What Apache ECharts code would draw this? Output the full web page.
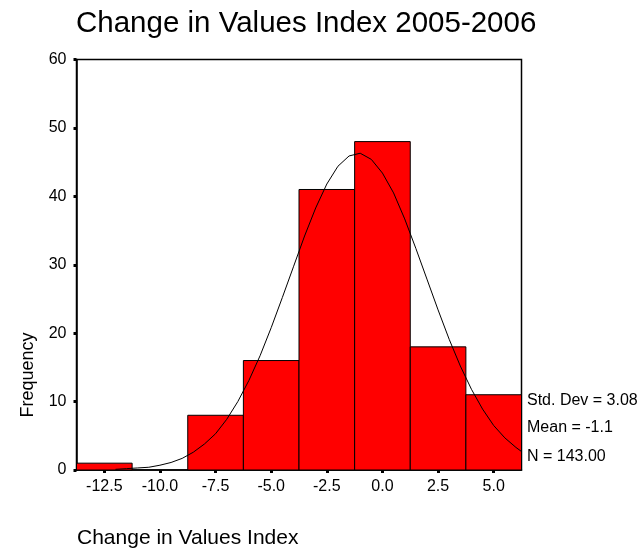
<!DOCTYPE html>
<html>
<head>
<meta charset="utf-8">
<script src="https://cdn.jsdelivr.net/npm/echarts@6/dist/echarts.min.js"></script>
<style>
html,body{margin:0;padding:0;background:#fff;}
#chart{width:642px;height:550px;}
</style>
</head>
<body>
<div id="chart"></div>
<script>
// Histogram data
const binCenters = [-12.5, -10.0, -7.5, -5.0, -2.5, 0.0, 2.5, 5.0];
const frequencies = [1, 0, 8, 16, 41, 48, 18, 11];
const binWidth = 2.5;
const xTicks = [-12.5, -10.0, -7.5, -5.0, -2.5, 0.0, 2.5, 5.0];
// Normal curve
const curveX = [-12, -11.5, -11, -10.5, -10, -9.5, -9, -8.5, -8, -7.5, -7, -6.5, -6, -5.5, -5, -4.5, -4, -3.5, -3, -2.5, -2, -1.5, -1, -0.5, 0, 0.5, 1, 1.5, 2, 2.5, 3, 3.5, 4, 4.5, 5, 5.5, 6, 6.25];
const curveY = [0.1, 0.2, 0.3, 0.4, 0.7, 1.1, 1.7, 2.6, 3.8, 5.3, 7.4, 10.0, 13.1, 16.7, 20.8, 25.2, 29.7, 34.2, 38.3, 41.8, 44.4, 45.9, 46.3, 45.4, 43.4, 40.5, 36.7, 32.4, 27.9, 23.4, 19.1, 15.2, 11.8, 8.9, 6.5, 4.7, 3.3, 2.7];
const statLines = ['Std. Dev = 3.08', 'Mean = -1.1', 'N = 143.00'];
const titleText = 'Change in Values Index 2005-2006';
const xName = 'Change in Values Index';
const yName = 'Frequency';

const FONT = '"Liberation Sans", Arial, sans-serif';
const chart = echarts.init(document.getElementById('chart'));

const barData = binCenters.map((c, i) => [c, frequencies[i]]);
const lineData = curveX.map((x, i) => [x, curveY[i]]);

const option = {
  backgroundColor: '#fff',
  animation: false,
  title: {
    text: titleText,
    left: 76,
    top: 9,
    padding: 0,
    textStyle: { fontFamily: FONT, fontSize: 29.5, fontWeight: 'normal', color: '#000' }
  },
  grid: {
    left: 76.5, right: 120.5, top: 59.5, bottom: 80,
    show: true, borderColor: '#000', borderWidth: 1.5, backgroundColor: 'transparent',
    containLabel: false
  },
  xAxis: {
    type: 'value',
    min: binCenters[0] - binWidth / 2,
    max: binCenters[binCenters.length - 1] + binWidth / 2,
    axisLine: { show: true, onZero: false, lineStyle: { color: '#000', width: 1.5 } },
    axisTick: { show: true, customValues: xTicks, length: 3, lineStyle: { color: '#000', width: 3 } },
    axisLabel: {
      customValues: xTicks,
      formatter: v => v.toFixed(1),
      fontFamily: FONT, fontSize: 16, color: '#000', margin: 9
    },
    splitLine: { show: false }
  },
  yAxis: {
    type: 'value',
    min: 0, max: 60, interval: 10,
    axisLine: { show: true, onZero: false, lineStyle: { color: '#000', width: 1.5 } },
    axisTick: { show: true, length: 3, lineStyle: { color: '#000', width: 3 } },
    axisLabel: { fontFamily: FONT, fontSize: 16, color: '#000', margin: 10 },
    splitLine: { show: false }
  },
  series: [
    {
      type: 'custom',
      data: barData,
      z: 2,
      renderItem: function (params, api) {
        const c = api.value(0), v = api.value(1);
        if (!v) return null;
        const p1 = api.coord([c - binWidth / 2, v]);
        const p2 = api.coord([c + binWidth / 2, 0]);
        return {
          type: 'rect',
          shape: { x: p1[0], y: p1[1], width: p2[0] - p1[0], height: p2[1] - p1[1] },
          style: { fill: '#ff0000', stroke: '#000', lineWidth: 1 }
        };
      }
    },
    {
      type: 'line',
      data: lineData,
      showSymbol: false,
      symbol: 'none',
      z: 3,
      lineStyle: { color: '#000', width: 1 }
    }
  ],
  graphic: [
    {
      type: 'text', left: 77, top: 528,
      style: { text: xName, font: '21px ' + FONT, fill: '#000' }
    },
    {
      type: 'text', x: 28, y: 375, rotation: Math.PI / 2,
      style: { text: yName, font: '18px ' + FONT, fill: '#000', align: 'center', verticalAlign: 'middle' }
    }
  ].concat(statLines.map((s, i) => ({
    type: 'text', x: 527, y: [401, 428, 457][i],
    style: { text: s, font: '16px ' + FONT, fill: '#000', verticalAlign: 'middle' }
  })))
};
chart.setOption(option);
</script>
</body>
</html>
